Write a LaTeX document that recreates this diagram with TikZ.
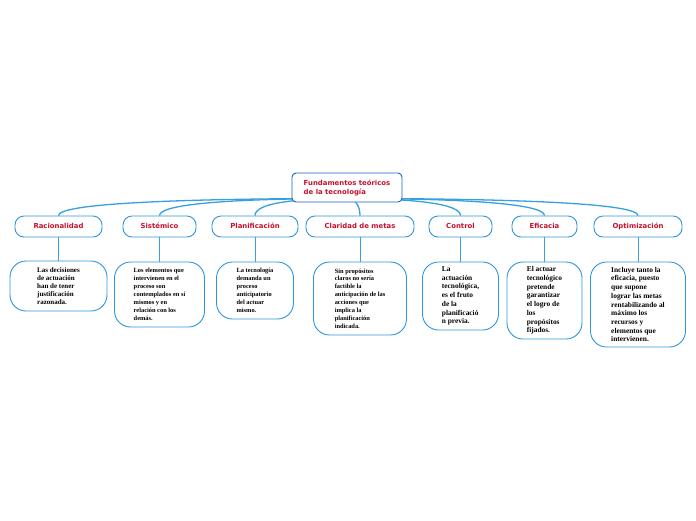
\documentclass[tikz,border=0pt]{standalone}
\usepackage{fontspec}
\setmainfont{Liberation Serif}
\newfontfamily\headfont{DejaVu Sans}
\usetikzlibrary{positioning,backgrounds}
\definecolor{headred}{RGB}{200,16,46}
\definecolor{rootblue}{RGB}{25,95,195}
\definecolor{boxblue}{RGB}{45,150,220}
\definecolor{linkblue}{RGB}{55,160,225}
\tikzset{rootbox/.style={draw=rootblue, line width=0.9pt, fill=white, rounded corners=4pt, align=left, text=headred, font=\headfont\bfseries\fontsize{6.9}{9}\selectfont, minimum width=110, minimum height=29}}
\tikzset{topic/.style={draw=boxblue, line width=0.9pt, fill=white, rounded corners=9pt, text=headred, font=\headfont\bfseries\fontsize{6.9}{9}\selectfont, minimum height=21, inner sep=0pt, text height=5.2, text depth=1.4}}
\tikzset{note/.style={draw=boxblue, line width=0.9pt, fill=white, rounded corners=16pt, align=left, inner sep=0pt, font=\bfseries\fontsize{6.4}{7.9}\selectfont}}
\tikzset{bignote/.style={note, font=\bfseries\fontsize{7.4}{8.7}\selectfont}}
\tikzset{link/.style={draw=linkblue, line width=1.3pt}}

\begin{document}
\begin{tikzpicture}[x=1pt, y=1pt, on grid]
			\useasboundingbox (0,0) rectangle (696,-520);
			\node[rootbox] (root) at (347,-187.5) {Fundamentos teóricos\\de la tecnología};
			\coordinate (hub) at ([yshift=-11]root.center);
			
			\node[topic, minimum width=87] (rac) [below left = 39 and 288.5 of root] {Racionalidad};
			\node[topic, minimum width=73] (sis) [below left = 39 and 187.5 of root] {Sistémico};
			\node[topic, minimum width=86] (pla) [below left = 39 and 92 of root] {Planificación};
			\node[topic, minimum width=108] (cla) [below right = 39 and 13 of root] {Claridad de metas};
			\node[topic, minimum width=63] (con) [below right = 39 and 113.5 of root] {Control};
			\node[topic, minimum width=65] (efi) [below right = 39 and 197.5 of root] {Eficacia};
			\node[topic, minimum width=88] (opt) [below right = 39 and 291 of root] {Optimización};
			
			\node[note, minimum width=97, minimum height=50, font=\bfseries\fontsize{7}{7.9}\selectfont] (racd) [below = 59.5 of rac] {Las decisiones\\de actuación\\han de tener\\justificación\\razonada.};
			\node[note, minimum width=90, minimum height=65] (sisd) [below = 68 of sis] {Los elementos que\\intervienen en el\\proceso son\\contemplados en sí\\mismos y en\\relación con los\\demás.};
			\node[note, minimum width=77, minimum height=57] (plad) [below = 64 of pla] {La tecnología\\demanda un\\proceso\\anticipatorio\\del actuar\\mismo.};
			\node[note, minimum width=93, minimum height=73] (clad) [below = 72 of cla] {Sin propósitos\\claros no sería\\factible la\\anticipación de las\\acciones que\\implica la\\planificación\\indicada.};
			\node[bignote, minimum width=76, minimum height=68] (cond) [below = 69.5 of con] {La\\actuación\\tecnológica,\\es el fruto\\de la\\planificació\\n previa.};
			\node[bignote, minimum width=75, minimum height=77] (efid) [below = 74 of efi] {El actuar\\tecnológico\\pretende\\garantizar\\el logro de\\los\\propósitos\\fijados.};
			\node[bignote, minimum width=95, minimum height=85] (optd) [below = 78 of opt] {Incluye tanto la\\eficacia, puesto\\que supone\\lograr las metas\\rentabilizando al\\máximo los\\recursos y\\elementos que\\intervienen.};
			
			% ramas desde la raiz
			\begin{pgfonlayer}{background}
			\path[link] (hub) edge [out=180, in=90, out distance=170, in distance=12] (rac);
			\path[link] (hub) edge [out=180, in=90, out distance=110, in distance=12] (sis);
			\path[link] (hub) edge [out=180, in=90, out distance=55, in distance=12] (pla);
			\path[link] (hub) edge [out=0, in=90, out distance=8, in distance=10] (cla);
			\path[link] (hub) edge [out=0, in=90, out distance=65, in distance=12] (con);
			\path[link] (hub) edge [out=0, in=90, out distance=115, in distance=12] (efi);
			\path[link] (hub) edge [out=0, in=90, out distance=170, in distance=12] (opt);
			\end{pgfonlayer}
			
			\path[link, line width=1pt] (rac) edge (racd);
			\path[link, line width=1pt] (sis) edge (sisd);
			\path[link, line width=1pt] (pla) edge (plad);
			\path[link, line width=1pt] (cla) edge (clad);
			\path[link, line width=1pt] (con) edge (cond);
			\path[link, line width=1pt] (efi) edge (efid);
			\path[link, line width=1pt] (opt) edge (optd);
		\end{tikzpicture}
\end{document}
